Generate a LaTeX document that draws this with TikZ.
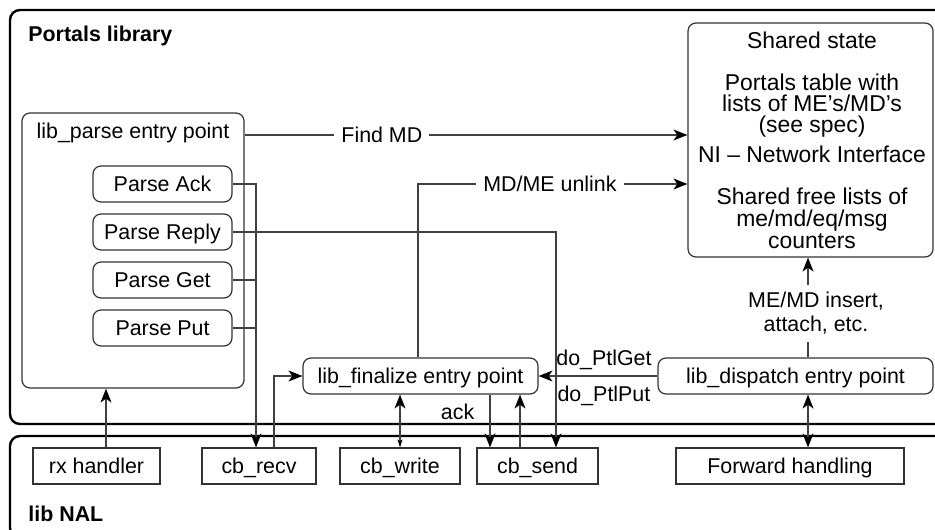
\documentclass[tikz,border=0pt]{standalone}
\usepackage{fontspec}
\setmainfont{Liberation Sans}[Scale=1.07]
\usetikzlibrary{arrows.meta}
\newlength{\pix}
\setlength{\pix}{0.5pt}

\tikzset{
  panel/.style={draw=black, line width=1.2pt, rounded corners=5pt},
  txt/.style={text height=7.7pt, text depth=0pt},
  rbox/.style={txt, draw=black!80, line width=0.6pt, rounded corners=4pt, minimum height=36\pix, inner sep=0pt},
  sbox/.style={txt, draw=black!80, line width=0.6pt, minimum height=36\pix, inner sep=0pt},
  wire/.style={draw=black!75, line width=0.6pt},
  tip/.style={Stealth[length=7pt,width=5.5pt,inset=2pt,black]},
  flow/.style={wire, -{Stealth[length=7pt,width=5.5pt,inset=2pt,black]}},
  twoway/.style={wire, {Stealth[length=7pt,width=5.5pt,inset=2pt,black]}-{Stealth[length=7pt,width=5.5pt,inset=2pt,black]}},
  thinway/.style={wire, {Stealth[length=4pt,width=2.5pt,inset=1pt,black]}-{Stealth[length=7pt,width=5.5pt,inset=2pt,black]}},
}

\begin{document}
\begin{tikzpicture}[x=\pix, y=-\pix]
        \useasboundingbox (0,0) rectangle (935,529);
        \clip (0,0) rectangle (935,529);

        %the two libraries
        \draw[panel] (10,10) rectangle (960,424);
        \draw[panel] (10,436) rectangle (960,538);
        \node[anchor=base west, inner sep=0pt, font=\bfseries] (portals) at (28,42) {Portals library};
        \node[anchor=base west, inner sep=0pt, font=\bfseries] (nal) at (28,521) {lib NAL};

        %parse entry point with its parsers
        \node[rbox, minimum width=222\pix, minimum height=275\pix] (parse) at (133,250.5) {};
        \node[txt, inner sep=0pt] (parsetitle) at (133,131) {lib\_parse entry point};
        \foreach \name/\kind/\ypos in {pack/Ack/184, preply/Reply/232, pget/Get/280, pput/Put/328}{
          \node[rbox, minimum width=139\pix] (\name) at (162.5,\ypos) {Parse \kind};
        }

        %shared state
        \node[rbox, minimum width=245\pix, minimum height=234\pix] (state) at (810.5,140) {};
        \node[anchor=north, inner sep=0pt, align=center, font=\fontsize{10.7pt}{10.5pt}\selectfont] (statetext) at (812,32)
          {Shared state\\[10.5pt] Portals table with\\ lists of ME’s/MD’s\\ (see spec)\\[3pt]
           NI – Network Interface\\[10.5pt] Shared free lists of\\[0.5pt] me/md/eq/msg\\[0.5pt] counters};

        %entry points
        \node[rbox, minimum width=235\pix] (final) at (420.5,376) {lib\_finalize entry point};
        \node[rbox, minimum width=275\pix] (dispatch) at (795.5,376) {lib\_dispatch entry point};

        %NAL callbacks
        \node[sbox, minimum width=127\pix] (rx) at (96.5,466) {rx handler};
        \node[sbox, minimum width=114\pix] (recv) at (259,466) {cb\_recv};
        \node[sbox, minimum width=120\pix] (write) at (400,466) {cb\_write};
        \node[sbox, minimum width=121\pix] (send) at (537.5,466) {cb\_send};
        \node[sbox, minimum width=228\pix] (fwd) at (790,466) {Forward handling};

        %columns and rows of the wires
        \coordinate (rxcol) at (106,0);
        \coordinate (recvcol) at (256,0);
        \coordinate (recvup) at (274,0);
        \coordinate (unlinkcol) at (418,0);
        \coordinate (ackcol) at (490,0);
        \coordinate (sendup) at (520,0);
        \coordinate (replycol) at (556,0);
        \coordinate (insertcol) at (808,0);
        \coordinate (findrow) at (0,135);
        \coordinate (unlinkrow) at (0,184);

        %parse side
        \draw[flow] (rx.north -| rxcol) -- (parse.south -| rxcol);
        \draw[flow] (pack.east) -| (recv.north -| recvcol);
        \draw[wire] (pget.east) -- (pget.east -| recvcol);
        \draw[wire] (pput.east) -- (pput.east -| recvcol);
        \draw[flow] (preply.east) -| (send.north -| replycol);
        \draw[flow] (parse.north east |- findrow) -- node[pos=0.31, fill=white] {Find MD} (state.west |- findrow);

        %finalize side
        \draw[flow] (recv.north -| recvup) |- (final.west);
        \draw[flow] (final.north -| unlinkcol) |- node[pos=0.745, fill=white] {MD/ME unlink} (state.west |- unlinkrow);
        \draw[thinway] (write.north) -- (final.south -| write.north);
        \draw[flow] (final.south -| ackcol) -- node[txt, pos=0.33, left=4pt] {ack} (send.north -| ackcol);
        \draw[flow] (send.north -| sendup) -- (final.south -| sendup);

        %dispatch side
        \draw[flow] (dispatch.west) -- node[txt, pos=0.45, yshift=18\pix] {do\_PtlGet}
          node[txt, pos=0.45, yshift=-18\pix] {do\_PtlPut} (final.east);
        \draw[twoway] (fwd.north -| insertcol) -- (dispatch.south -| insertcol);
        \draw[flow] (dispatch.north -| insertcol) -- node[pos=0.44, xshift=8\pix, fill=white, align=center]
          {ME/MD insert,\\attach, etc.} (state.south -| insertcol);
\end{tikzpicture}
\end{document}
